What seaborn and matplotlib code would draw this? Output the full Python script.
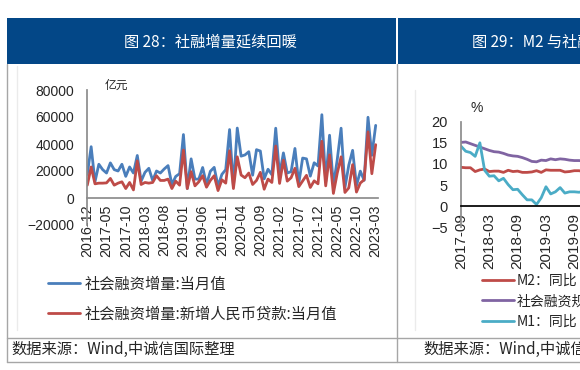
import numpy as np
import pandas as pd
import matplotlib
matplotlib.use("Agg")
import matplotlib.pyplot as plt
from matplotlib.lines import Line2D
from matplotlib.patches import Rectangle
import seaborn as sns

W, H = 580, 370

# fig 28: monthly flow, 亿元, 2016-12 .. 2023-03
months_28 = pd.period_range("2016-12", "2023-03", freq="M").strftime("%Y-%m").tolist()
tsf_flow = [17500, 38000, 12000, 25000, 21000, 18500, 26000, 21000, 20000, 25000, 16000, 23000, 18500,
            31500, 12500, 19000, 22000, 13000, 20000, 18500, 21500, 24000, 10000, 16000, 18000,
            47000, 7000, 29000, 14000, 14000, 22600, 10000, 19800, 22700, 8800, 17500, 21000,
            50700, 8600, 51800, 31000, 31900, 34300, 16900, 35800, 34800, 14200, 21300, 17200,
            51700, 17100, 33400, 18500, 19500, 36700, 10800, 29600, 29000, 16200, 26100, 23700,
            61700, 12000, 46500, 9100, 28400, 51700, 7600, 24300, 35300, 9100, 19900, 13100,
            59800, 31600, 53800]
loan_flow = [9500, 23000, 10500, 11000, 11000, 11200, 14500, 9500, 11000, 12000, 7000, 11500, 6000,
             27500, 10000, 11500, 11000, 11500, 16500, 13000, 13000, 14000, 7000, 12500, 9500,
             35500, 7000, 19500, 9000, 12000, 16500, 8000, 13000, 16500, 5500, 13500, 11000,
             35000, 7000, 30500, 17000, 15000, 18500, 10000, 13000, 19000, 6500, 14000, 11500,
             38500, 10800, 28000, 12500, 15000, 22000, 8400, 12600, 16800, 7800, 12700, 10500,
             42000, 9000, 32000, 3400, 18400, 30500, 4100, 7500, 24700, 4400, 11100, 13500,
             49000, 18000, 39500]
yticks_28 = [-20000, 0, 20000, 40000, 60000, 80000]

# fig 29: yoy %, only the part that shows in the crop
months_29 = pd.period_range("2017-09", "2019-12", freq="M").strftime("%Y-%m").tolist()
m2_yoy = [9.2, 9.1, 9.1, 8.2, 8.6, 8.8, 8.2, 8.3, 8.3, 8.0, 8.5, 8.2, 8.3, 8.0,
          8.0, 8.1, 8.4, 8.0, 8.6, 8.5, 8.5, 8.5, 8.1, 8.2, 8.4, 8.4, 8.2, 8.7]
tsf_yoy = [15.1, 15.2, 14.8, 14.4, 14.0, 13.6, 13.2, 12.9, 12.8, 12.5, 12.1, 11.9, 11.8, 11.5,
           11.1, 10.6, 10.5, 10.9, 10.8, 11.2, 11.0, 11.2, 11.1, 10.9, 10.8, 10.8, 10.7, 10.8]
m1_yoy = [14.2, 13.0, 12.7, 11.8, 15.0, 8.5, 7.1, 7.2, 6.0, 6.6, 5.1, 3.9, 4.0, 2.7,
          1.5, 1.5, 0.4, 2.0, 4.6, 2.9, 3.4, 4.4, 3.1, 3.4, 3.4, 3.3, 3.5, 4.4]
xlabels_29 = pd.period_range("2017-09", "2023-03", freq="M").strftime("%Y-%m").tolist()[::6]
yticks_29 = [-5, 0, 5, 10, 15, 20]

BLUE, RED, PURPLE, CYAN = "#4A7EBB", "#BE4B48", "#8064A2", "#4BACC6"
NAVY = "#034787"
CJK = ["Noto Sans CJK SC", "DejaVu Sans"]

sns.set_theme(style="white")
plt.rcParams["font.family"] = ["Liberation Sans", "Noto Sans CJK SC", "DejaVu Sans"]
plt.rcParams["axes.unicode_minus"] = True

fig = plt.figure(figsize=(W / 100, H / 100), dpi=100)


def fx(x):
    return x / W


def fy(y):
    return 1 - y / H


def hline(x0, x1, y, color="#A6A6A6", lw=1.0):
    fig.add_artist(Line2D([fx(x0), fx(x1)], [fy(y), fy(y)], color=color, lw=lw, transform=fig.transFigure))


def vline(x, y0, y1, color="#A6A6A6", lw=1.0):
    fig.add_artist(Line2D([fx(x), fx(x)], [fy(y0), fy(y1)], color=color, lw=lw, transform=fig.transFigure))


# page frame: header bands, borders, source row
fig.add_artist(Rectangle((fx(7), fy(64)), (396 - 7) / W, 46 / H, color=NAVY, transform=fig.transFigure, lw=0))
fig.add_artist(Rectangle((fx(398), fy(64)), (W - 398) / W, 46 / H, color=NAVY, transform=fig.transFigure, lw=0))
fig.text(fx(210), fy(42.5), "图 28：社融增量延续回暖", color="white", fontsize=11,
         ha="center", va="center", family=CJK)
fig.text(fx(472), fy(42.5), "图 29：M2 与社融存量增速", color="white", fontsize=11,
         ha="left", va="center", family=CJK)
vline(7, 64, 362)
vline(396.8, 64, 362)
hline(7, W, 337.5)
hline(7, W, 361.8)
vline(16.7, 66, 330, color="#EBEBEB")
vline(415, 90, 330, color="#EBEBEB")
fig.text(fx(11), fy(349.5), "数据来源：Wind,中诚信国际整理", fontsize=11, ha="left", va="center", family=CJK)
fig.text(fx(423), fy(349.5), "数据来源：Wind,中诚信国际整理", fontsize=11, ha="left", va="center", family=CJK)

# ---- fig 28 ----
ax1 = fig.add_axes([fx(87.3), fy(225), (378 - 87.3) / W, (225 - 90) / H])
x28 = np.arange(len(months_28))
sns.lineplot(x=x28, y=tsf_flow, ax=ax1, color=BLUE, lw=2, label="社会融资增量:当月值")
sns.lineplot(x=x28, y=loan_flow, ax=ax1, color=RED, lw=2, label="社会融资增量:新增人民币贷款:当月值")
ax1.spines[["top", "right"]].set_visible(False)
ax1.spines["bottom"].set_position(("data", 0))
ax1.spines["bottom"].set_color("#8C8C8C")
ax1.spines["left"].set_color("#8C8C8C")
ax1.set_xlim(0, 75.6)
ax1.set_ylim(-20000, 80000)
ax1.set_yticks(yticks_28)
ax1.set_xticks(x28[::5])
ax1.set_xticklabels(months_28[::5])
ax1.tick_params(axis="y", length=0, pad=9.5, labelsize=10)
ax1.tick_params(axis="x", length=3, width=0.8, color="#8C8C8C", pad=1.5, labelsize=10.3, labelrotation=90)
ax1.patch.set_alpha(0)
h1, l1 = ax1.get_legend_handles_labels()
ax1.get_legend().remove()
fig.text(fx(105), fy(85), "亿元", fontsize=8.5, ha="left", va="center", family=CJK)
fig.legend(h1, l1, loc="upper left", bbox_to_anchor=(fx(48), fy(275.5)), frameon=False,
           borderpad=0, borderaxespad=0, handlelength=2.1, handletextpad=0.3,
           labelspacing=0.85, prop={"family": CJK, "size": 11})

# ---- fig 29 (cut off by the page edge) ----
ax2 = fig.add_axes([fx(461), fy(227.3), 66.5 * 4.72 / W, (227.3 - 121.7) / H])
x29 = np.arange(len(months_29))
sns.lineplot(x=x29, y=m2_yoy, ax=ax2, color=RED, lw=2, label="M2：同比")
sns.lineplot(x=x29, y=tsf_yoy, ax=ax2, color=PURPLE, lw=2, label="社会融资规模存量：同比")
sns.lineplot(x=x29, y=m1_yoy, ax=ax2, color=CYAN, lw=2, label="M1：同比")
ax2.spines[["top", "right"]].set_visible(False)
ax2.spines["bottom"].set_position(("data", 0))
ax2.spines["bottom"].set_color("black")
ax2.spines["left"].set_color("#8C8C8C")
ax2.set_xlim(0, 66.5)
ax2.set_ylim(-5, 20)
ax2.set_yticks(yticks_29)
ax2.set_xticks(np.arange(0, 67, 6))
ax2.set_xticklabels(xlabels_29)
ax2.tick_params(axis="y", length=0, pad=9.5, labelsize=10.5)
ax2.tick_params(axis="x", length=0, pad=5, labelsize=11, labelrotation=90)
ax2.patch.set_alpha(0)
h2, l2 = ax2.get_legend_handles_labels()
ax2.get_legend().remove()
fig.text(fx(477), fy(108), "%", fontsize=10, ha="center", va="center")
fig.legend(h2, l2, loc="upper left", bbox_to_anchor=(fx(482), fy(274)), frameon=False,
           borderpad=0, borderaxespad=0, handlelength=2.3, handletextpad=0.2,
           labelspacing=0.45, prop={"family": CJK, "size": 10})

fig.savefig("out.png", dpi=100)
